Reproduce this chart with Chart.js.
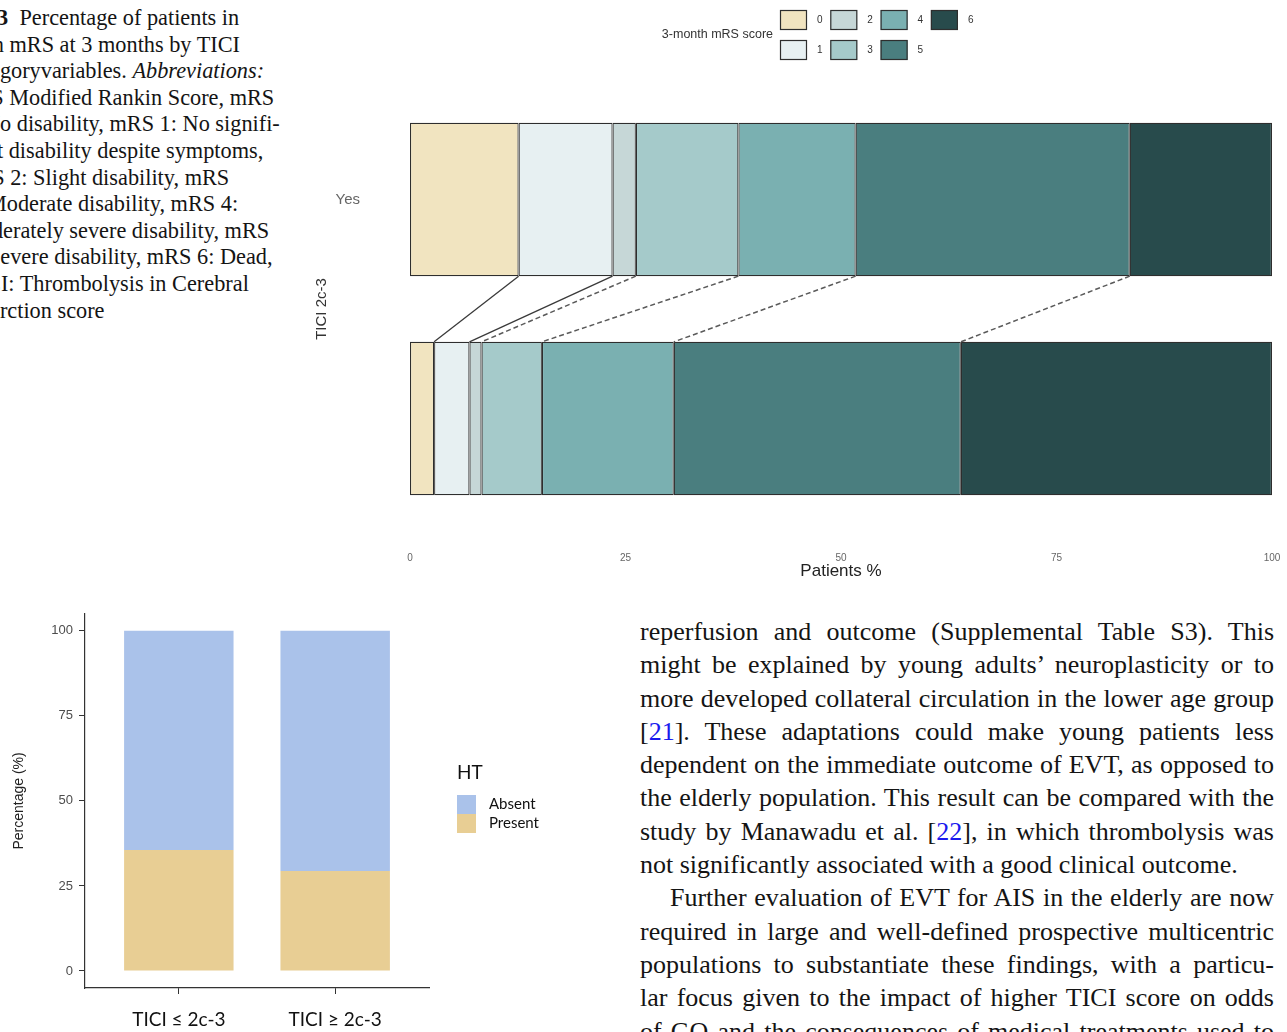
<!DOCTYPE html>
<html>
<head>
<meta charset="utf-8">
<script src="https://cdn.jsdelivr.net/npm/chart.js@4.4.1/dist/chart.umd.min.js"></script>
<style>
  html, body { margin: 0; padding: 0; background: #fff; }
  body { width: 1287px; height: 1032px; overflow: hidden; position: relative; }
  .caption {
    position: absolute; left: 0; top: 5px; width: 300px; overflow: hidden;
    font-family: "Liberation Serif", "Times New Roman", serif;
    font-size: 22.3px; line-height: 26.6px; color: #141414; white-space: nowrap;
  }
  .caption div { position: relative; }
  .body-text {
    position: absolute; left: 640px; top: 615px; width: 634px;
    font-family: "Liberation Serif", "Times New Roman", serif;
    font-size: 26px; line-height: 33.3px; color: #141414;
  }
  .body-text .ln { text-align: justify; text-align-last: justify; white-space: nowrap; }
  .body-text .last { text-align: left; text-align-last: left; }
  .body-text .indent { padding-left: 30px; }
  .cite { color: #1a1aee; }
  #mrsChart { position: absolute; left: 300px; top: 0; }
  #htChart { position: absolute; left: 0; top: 600px; }
</style>
</head>
<body>

<div class="caption">
  <div style="left:-45px"><b>Fig. 3</b>&ensp;Percentage of patients in</div>
  <div style="left:-37px">each mRS at 3 months by TICI</div>
  <div style="left:-36px">categoryvariables. <i>Abbreviations:</i></div>
  <div style="left:-41px">mRS Modified Rankin Score, mRS</div>
  <div style="left:-39px">0: No disability, mRS 1: No signifi-</div>
  <div style="left:-34px">cant disability despite symptoms,</div>
  <div style="left:-40px">mRS 2: Slight disability, mRS</div>
  <div style="left:-36px">3: Moderate disability, mRS 4:</div>
  <div style="left:-39px">Moderately severe disability, mRS</div>
  <div style="left:-35px">5: Severe disability, mRS 6: Dead,</div>
  <div style="left:-35px">TICI: Thrombolysis in Cerebral</div>
  <div style="left:-36px">Infarction score</div>
</div>

<canvas id="mrsChart" width="987" height="590"></canvas>
<canvas id="htChart" width="560" height="432"></canvas>

<div class="body-text">
  <div class="ln">reperfusion and outcome (Supplemental Table S3). This</div>
  <div class="ln">might be explained by young adults’ neuroplasticity or to</div>
  <div class="ln">more developed collateral circulation in the lower age group</div>
  <div class="ln">[<span class="cite">21</span>]. These adaptations could make young patients less</div>
  <div class="ln">dependent on the immediate outcome of EVT, as opposed to</div>
  <div class="ln">the elderly population. This result can be compared with the</div>
  <div class="ln">study by Manawadu et al. [<span class="cite">22</span>], in which thrombolysis was</div>
  <div class="ln last">not significantly associated with a good clinical outcome.</div>
  <div class="ln indent">Further evaluation of EVT for AIS in the elderly are now</div>
  <div class="ln">required in large and well-defined prospective multicentric</div>
  <div class="ln">populations to substantiate these findings, with a particu-</div>
  <div class="ln">lar focus given to the impact of higher TICI score on odds</div>
  <div class="ln">of GO and the consequences of medical treatments used to</div>
</div>

<script>
// ---- 3-month mRS distribution by TICI 2c-3 ----
const mrsCategories = ['Yes', ''];
const mrsScores = ['0', '1', '2', '3', '4', '5', '6'];
const mrsYes = [12.6, 10.9, 2.7, 11.9, 13.6, 31.8, 16.5];
const mrsNo  = [2.8, 4.1, 1.4, 7.0, 15.3, 33.3, 36.1];
const mrsColors = ['#F1E4C0', '#E7F0F2', '#C6D7D7', '#A5CACA', '#7AB0B1', '#4A7E7F', '#284B4C'];
const patientTicks = [0, 25, 50, 75, 100];

// ---- Haemorrhagic transformation by TICI group ----
const htGroups = ['TICI ≤ 2c-3', 'TICI ≥ 2c-3'];
const htPresent = [35.6, 29.4];
const htAbsent  = [64.4, 70.6];
const htLabels = ['Absent', 'Present'];
const htColors = { Absent: '#AAC2EA', Present: '#E8CE94' };
const percentTicks = [0, 25, 50, 75, 100];

// lines joining matching mRS boundaries between the two bars
const connectorPlugin = {
  id: 'connectors',
  afterDatasetsDraw(chart) {
    const ctx = chart.ctx;
    const n = chart.data.datasets.length;
    for (let k = 0; k < n - 1; k++) {
      const meta = chart.getDatasetMeta(k);
      const upper = meta.data[0], lower = meta.data[1];
      const x1 = upper.x, y1 = upper.y + upper.height / 2;
      const x2 = lower.x, y2 = lower.y - lower.height / 2;
      ctx.save();
      ctx.beginPath();
      if (k < 2) {
        ctx.setLineDash([]);
        ctx.strokeStyle = '#3a3a3a';
        ctx.lineWidth = 1.3;
      } else {
        ctx.setLineDash([5, 3]);
        ctx.strokeStyle = '#5a5a5a';
        ctx.lineWidth = 1.5;
      }
      ctx.moveTo(x1, y1);
      ctx.lineTo(x2, y2);
      ctx.stroke();
      ctx.restore();
    }
  }
};

// two-row score legend with its title on the left
const mrsLegendPlugin = {
  id: 'mrsLegend',
  afterDraw(chart) {
    const ctx = chart.ctx;
    const x0 = 480, y0 = 10, colStep = 50.3, rowStep = 30, bw = 27, bh = 20;
    ctx.save();
    ctx.font = '12.5px "Liberation Sans", Arial, sans-serif';
    ctx.fillStyle = '#333';
    ctx.textAlign = 'right';
    ctx.textBaseline = 'middle';
    ctx.fillText('3-month mRS score', 473, 35);
    chart.data.datasets.forEach((ds, i) => {
      const col = Math.floor(i / 2), row = i % 2;
      const x = x0 + col * colStep, y = y0 + row * rowStep;
      ctx.fillStyle = ds.backgroundColor;
      ctx.fillRect(x, y, bw, bh);
      ctx.strokeStyle = '#2e2e2e';
      ctx.lineWidth = 1.2;
      ctx.strokeRect(x + 0.5, y + 0.5, bw - 1, bh - 1);
      ctx.fillStyle = '#333';
      ctx.textAlign = 'left';
      ctx.font = '10px "Liberation Sans", Arial, sans-serif';
      ctx.fillText(ds.label, x + bw + 10, y + bh / 2);
    });
    ctx.restore();
  }
};

new Chart(document.getElementById('mrsChart'), {
  type: 'bar',
  data: {
    labels: mrsCategories,
    datasets: mrsScores.map((s, i) => ({
      label: s,
      data: [mrsYes[i], mrsNo[i]],
      backgroundColor: mrsColors[i],
      borderColor: '#2e2e2e',
      borderWidth: 1.2,
      borderSkipped: false,
      barPercentage: 0.7,
      categoryPercentage: 1
    }))
  },
  options: {
    indexAxis: 'y',
    responsive: false,
    animation: false,
    layout: { padding: { top: 90, right: 15, left: 0, bottom: 0 } },
    plugins: { legend: { display: false }, tooltip: { enabled: false } },
    scales: {
      x: {
        stacked: true, min: 0, max: 100,
        afterBuildTicks: s => { s.ticks = patientTicks.map(v => ({ value: v })); },
        grid: { display: false, drawTicks: false },
        border: { display: false },
        ticks: { padding: 24, color: '#666', font: { family: '"Liberation Sans Narrow", "Liberation Sans", Arial', size: 10 } },
        title: { display: true, text: 'Patients %', color: '#222', padding: { top: 0, bottom: 8 },
                 font: { family: '"Liberation Sans", Arial', size: 17 } },
        afterFit: s => { s.height = 62; s.paddingLeft = 0; s.paddingRight = 0; }
      },
      y: {
        stacked: true,
        grid: { display: false, drawTicks: false },
        border: { display: false },
        ticks: { padding: 50, color: '#666', font: { family: '"Liberation Sans", Arial', size: 15 } },
        title: { display: true, text: 'TICI 2c-3', color: '#333', padding: { top: 13, bottom: 0 },
                 font: { family: '"Liberation Sans", Arial', size: 15 } },
        afterFit: s => { s.width = 110; }
      }
    }
  },
  plugins: [connectorPlugin, mrsLegendPlugin]
});

// HT legend to the right of the plot
const htLegendPlugin = {
  id: 'htLegend',
  afterDraw(chart) {
    const ctx = chart.ctx;
    const x = chart.chartArea.right + 28, y = 173;
    ctx.save();
    ctx.fillStyle = '#111';
    ctx.textBaseline = 'middle';
    ctx.textAlign = 'left';
    ctx.font = '19px Lato, "Open Sans", sans-serif';
    ctx.fillText('HT', x, y);
    htLabels.forEach((lab, i) => {
      const by = 195 + i * 19;
      ctx.fillStyle = htColors[lab];
      ctx.fillRect(x, by, 19, 19);
      ctx.fillStyle = '#111';
      ctx.font = '15px Lato, "Open Sans", sans-serif';
      ctx.fillText(lab, x + 32, by + 9.5);
    });
    ctx.restore();
  }
};

new Chart(document.getElementById('htChart'), {
  type: 'bar',
  data: {
    datasets: [
      { label: 'Present', data: htPresent.map((v, i) => ({ x: i + 1, y: v })), backgroundColor: htColors.Present,
        barPercentage: 0.7, categoryPercentage: 1 },
      { label: 'Absent', data: htAbsent.map((v, i) => ({ x: i + 1, y: v })), backgroundColor: htColors.Absent,
        barPercentage: 0.7, categoryPercentage: 1 }
    ]
  },
  options: {
    responsive: false,
    animation: false,
    layout: { padding: { top: 13, right: 131, left: 0, bottom: 0 } },
    plugins: { legend: { display: false }, tooltip: { enabled: false } },
    scales: {
      x: {
        type: 'linear', stacked: true, min: 0.4, max: 2.6, offset: false,
        afterBuildTicks: s => { s.ticks = htGroups.map((g, i) => ({ value: i + 1 })); },
        grid: { display: true, drawOnChartArea: false, drawTicks: true, tickLength: 6, color: '#333', offset: false },
        border: { display: true, color: '#333', width: 1.2 },
        ticks: { padding: 14, color: '#111', font: { family: 'Lato, "Open Sans", sans-serif', size: 19 },
                 callback: v => htGroups[v - 1] },
        afterFit: s => { s.height = 44; }
      },
      y: {
        stacked: true, min: -5, max: 105,
        afterBuildTicks: s => { s.ticks = percentTicks.map(v => ({ value: v })); },
        grid: { display: true, drawOnChartArea: false, drawTicks: true, tickLength: 6, color: '#333' },
        border: { display: true, color: '#333', width: 1.2 },
        ticks: { padding: 6, color: '#4d4d4d', font: { family: '"Liberation Sans", Arial', size: 13 } },
        title: { display: true, text: 'Percentage (%)', color: '#222', padding: { top: 11, bottom: 0 },
                 font: { family: '"Liberation Sans", Arial', size: 14 } },
        afterFit: s => { s.width = 85; }
      }
    }
  },
  plugins: [htLegendPlugin]
});
</script>
</body>
</html>
